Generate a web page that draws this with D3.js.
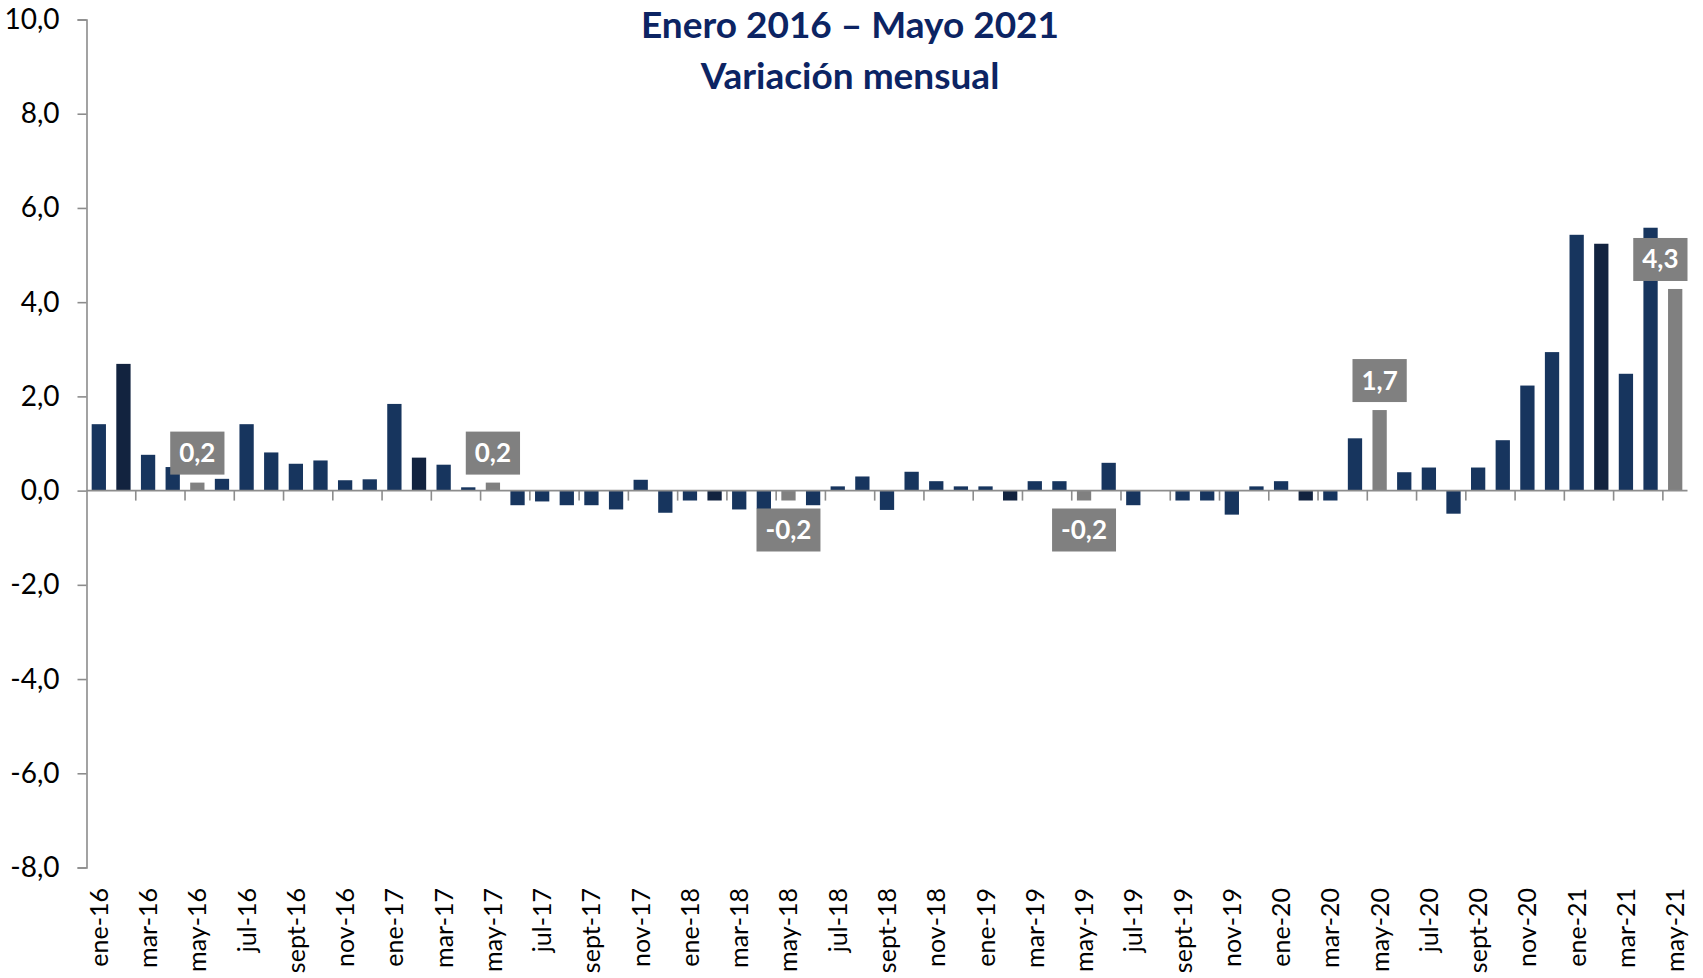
<!DOCTYPE html>
<html>
<head>
<meta charset="utf-8">
<script src="https://cdn.jsdelivr.net/npm/d3@7"></script>
<style>
  html, body { margin: 0; padding: 0; background: #ffffff; }
  svg { display: block; }
</style>
</head>
<body>
<svg id="chart" width="1703" height="978"></svg>
<script>
// ---- Data ----
const titleLines = ["Enero 2016 \u2013 Mayo 2021", "Variaci\u00f3n mensual"];

const categories = [
  "ene-16","feb-16","mar-16","abr-16","may-16","jun-16","jul-16","ago-16","sept-16","oct-16","nov-16","dic-16",
  "ene-17","feb-17","mar-17","abr-17","may-17","jun-17","jul-17","ago-17","sept-17","oct-17","nov-17","dic-17",
  "ene-18","feb-18","mar-18","abr-18","may-18","jun-18","jul-18","ago-18","sept-18","oct-18","nov-18","dic-18",
  "ene-19","feb-19","mar-19","abr-19","may-19","jun-19","jul-19","ago-19","sept-19","oct-19","nov-19","dic-19",
  "ene-20","feb-20","mar-20","abr-20","may-20","jun-20","jul-20","ago-20","sept-20","oct-20","nov-20","dic-20",
  "ene-21","feb-21","mar-21","abr-21","may-21"
];

const values = [
  1.41, 2.69, 0.76, 0.50, 0.17, 0.25, 1.41, 0.81, 0.57, 0.64, 0.22, 0.24,
  1.84, 0.70, 0.55, 0.07, 0.17, -0.31, -0.23, -0.31, -0.31, -0.40, 0.23, -0.47,
  -0.21, -0.21, -0.40, -0.39, -0.21, -0.31, 0.09, 0.30, -0.41, 0.40, 0.20, 0.09,
  0.09, -0.21, 0.20, 0.20, -0.21, 0.59, -0.31, 0.00, -0.21, -0.21, -0.51, 0.09,
  0.20, -0.21, -0.21, 1.11, 1.71, 0.39, 0.49, -0.49, 0.49, 1.07, 2.23, 2.94,
  5.43, 5.24, 2.48, 5.58, 4.28
];

const yTicks = [10, 8, 6, 4, 2, 0, -2, -4, -6, -8];
const yDomain = [-8, 10];

// months whose bars are drawn grey and labelled
const highlightMonth = "may";
// months whose bars are drawn darker
const darkMonth = "feb";

// ---- Layout ----
const svg = d3.select("#chart");
const plotLeft = 86.5, plotRight = 1687.5, plotTop = 19.5, plotBottom = 867.5;

const x = d3.scaleBand()
  .domain(categories)
  .range([plotLeft, plotRight])
  .paddingInner(0.42)
  .paddingOuter(0.21);

const y = d3.scaleLinear().domain(yDomain).range([plotBottom, plotTop]);

const fmt = v => d3.format(".1f")(v).replace(".", ",").replace("\u2212", "-");

const colNavy = "#17355e", colDark = "#12233f", colGrey = "#808080", axisCol = "#8c8c8c";

// ---- Title ----
svg.selectAll("text.title")
  .data(titleLines)
  .join("text")
  .attr("class", "title")
  .attr("x", 850)
  .attr("y", (d, i) => i === 0 ? 38 : 89)
  .attr("text-anchor", "middle")
  .attr("font-family", "Lato, 'Open Sans', sans-serif")
  .attr("font-weight", "bold")
  .attr("font-size", 37)
  .attr("fill", "#0c2463")
  .text(d => d);

// ---- Y axis ----
const yAxis = d3.axisLeft(y).tickValues(yTicks).tickSize(9).tickPadding(18).tickFormat(fmt);
const gy = svg.append("g").attr("transform", `translate(${plotLeft},0)`).call(yAxis);
gy.select(".domain").attr("stroke", axisCol).attr("stroke-width", 1.6);
gy.selectAll(".tick line").attr("stroke", axisCol).attr("stroke-width", 1.6);
gy.selectAll(".tick text")
  .attr("font-family", "Lato, sans-serif")
  .attr("font-size", 28)
  .attr("fill", "#000");

// ---- Bars ----
const data = categories.map((c, i) => ({ cat: c, v: values[i], m: c.split("-")[0] }));

svg.append("g").selectAll("rect")
  .data(data)
  .join("rect")
  .attr("x", d => x(d.cat))
  .attr("width", x.bandwidth())
  .attr("y", d => y(Math.max(0, d.v)))
  .attr("height", d => Math.abs(y(d.v) - y(0)))
  .attr("fill", d => d.m === highlightMonth ? colGrey : (d.m === darkMonth ? colDark : colNavy));

// ---- X axis (zero line) ----
const step = x.step();
const tickBounds = d3.range(2, categories.length, 2).map(k => plotLeft + k * step);
const gx = svg.append("g");
gx.append("line")
  .attr("x1", plotLeft).attr("x2", plotRight)
  .attr("y1", y(0)).attr("y2", y(0))
  .attr("stroke", axisCol).attr("stroke-width", 1.6);
gx.selectAll("line.xt")
  .data(tickBounds)
  .join("line")
  .attr("class", "xt")
  .attr("x1", d => d).attr("x2", d => d)
  .attr("y1", y(0)).attr("y2", y(0) + 10)
  .attr("stroke", axisCol).attr("stroke-width", 1.6);

// ---- X labels (every other month) ----
svg.append("g").selectAll("text")
  .data(categories.filter((c, i) => i % 2 === 0))
  .join("text")
  .attr("transform", d => `translate(${x(d) + x.bandwidth() / 2 + 9},888) rotate(-90)`)
  .attr("text-anchor", "end")
  .attr("font-family", "Lato, sans-serif")
  .attr("font-size", 25)
  .attr("fill", "#000")
  .text(d => d);

// ---- Data labels for highlighted months ----
const labelled = data.filter(d => d.m === highlightMonth);
const lg = svg.append("g");
labelled.forEach(d => {
  const t = lg.append("text")
    .attr("font-family", "Lato, sans-serif")
    .attr("font-weight", "bold")
    .attr("font-size", 26)
    .attr("fill", "#ffffff")
    .attr("text-anchor", "middle")
    .text(fmt(d.v));
  const tw = t.node().getComputedTextLength();
  const w = tw + 18, h = 43, gap = 8;
  const cx = x(d.cat) + x.bandwidth() / 2;
  let bx = Math.min(cx - w / 2, plotRight - w);
  const by = d.v >= 0 ? y(d.v) - gap - h : y(d.v) + gap;
  lg.insert("rect", "text")
    .attr("x", bx).attr("y", by).attr("width", w).attr("height", h)
    .attr("fill", colGrey);
  t.attr("x", bx + w / 2).attr("y", by + h / 2 + 9);
});
</script>
</body>
</html>
